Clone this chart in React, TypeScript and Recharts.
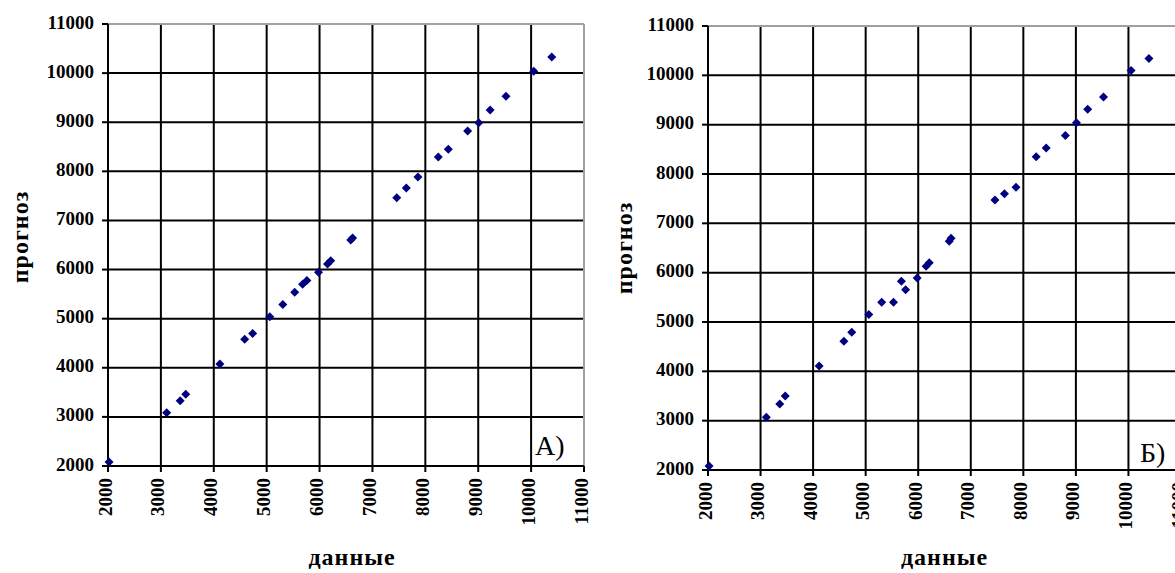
import React from "react";
import {
  ScatterChart,
  Scatter,
  XAxis,
  YAxis,
  CartesianGrid,
  ReferenceLine,
  Label,
} from "recharts";

// actual values (shared by both panels)
const actual = [
  2020, 3110, 3365, 3470, 4115, 4585, 4735, 5060, 5305, 5530, 5680, 5760,
  5980, 6150, 6210, 6590, 6625, 7460, 7640, 7860, 8245, 8435, 8800, 9010,
  9225, 9525, 10050, 10390,
];

// forecast, panel A
const forecastA = [
  2080, 3085, 3330, 3460, 4077, 4580, 4700, 5040, 5290, 5540, 5700, 5775,
  5945, 6115, 6180, 6600, 6640, 7460, 7660, 7885, 8290, 8450, 8820, 8990,
  9250, 9530, 10040, 10330,
];

// forecast, panel B
const forecastB = [
  2080, 3070, 3340, 3500, 4110, 4610, 4790, 5150, 5400, 5400, 5825, 5655,
  5890, 6130, 6200, 6635, 6700, 7475, 7600, 7730, 8350, 8525, 8780, 9040,
  9315, 9560, 10100, 10340,
];

const ticks = [2000, 3000, 4000, 5000, 6000, 7000, 8000, 9000, 10000, 11000];

const dataA = actual.map((x, i) => ({ x, y: forecastA[i] }));
const dataB = actual.map((x, i) => ({ x, y: forecastB[i] }));

const font = "'Liberation Serif', 'Times New Roman', serif";

const Diamond = (props: any) => {
  const { cx, cy } = props;
  const r = 4.5;
  return (
    <path
      d={`M${cx},${cy - r}L${cx + r},${cy}L${cx},${cy + r}L${cx - r},${cy}Z`}
      fill="#000080"
    />
  );
};

const XTick = (props: any) => {
  const { x, y, payload } = props;
  return (
    <text
      x={x - 3}
      y={y}
      transform={`rotate(-90 ${x - 3} ${y})`}
      textAnchor="end"
      dominantBaseline="central"
      fontFamily={font}
      fontWeight="bold"
      fontSize={19}
      fill="#000"
    >
      {payload.value}
    </text>
  );
};

const YTick = (props: any) => {
  const { x, y, payload } = props;
  return (
    <text
      x={x}
      y={y - 2}
      textAnchor="end"
      dominantBaseline="central"
      fontFamily={font}
      fontWeight="bold"
      fontSize={19}
      fill="#000"
    >
      {payload.value}
    </text>
  );
};

const yTitle = (shift: number, left: number) => (props: any) => {
  const { viewBox } = props;
  const cx = viewBox.x + left;
  const cy = viewBox.y + viewBox.height / 2 + shift;
  return (
    <text
      x={cx}
      y={cy}
      transform={`rotate(-90 ${cx} ${cy})`}
      textAnchor="middle"
      dominantBaseline="central"
      fontFamily={font}
      fontWeight="bold"
      fontSize={24}
      letterSpacing={1}
      fill="#000"
    >
      прогноз
    </text>
  );
};

const xTitle = (dx: number, baseline: number) => (props: any) => {
  const { viewBox } = props;
  return (
    <text
      x={viewBox.x + viewBox.width / 2 + dx}
      y={viewBox.y + baseline}
      textAnchor="middle"
      fontFamily={font}
      fontWeight="bold"
      fontSize={24}
      letterSpacing={1}
      fill="#000"
    >
      данные
    </text>
  );
};

function Panel(props: {
  data: { x: number; y: number }[];
  top: number;
  right: number;
  xHeight: number;
  xDx: number;
  xBase: number;
  yShift: number;
  yLeft: number;
}) {
  const { data, top, right, xHeight, xDx, xBase, yShift, yLeft } = props;
  return (
    <ScatterChart
      width={600}
      height={573}
      margin={{ top, right, bottom: 0, left: 0 }}
    >
      <CartesianGrid stroke="#000" strokeWidth={2} />
      <XAxis
        type="number"
        dataKey="x"
        domain={[2000, 11000]}
        ticks={ticks}
        interval={0}
        height={xHeight}
        tick={<XTick />}
        tickSize={6}
        tickMargin={6}
        axisLine={{ stroke: "#000", strokeWidth: 2 }}
        tickLine={{ stroke: "#000", strokeWidth: 2 }}
      >
        <Label content={xTitle(xDx, xBase)} />
      </XAxis>
      <YAxis
        type="number"
        dataKey="y"
        domain={[2000, 11000]}
        ticks={ticks}
        interval={0}
        width={108}
        tick={<YTick />}
        tickSize={6}
        tickMargin={8}
        axisLine={{ stroke: "#000", strokeWidth: 2 }}
        tickLine={{ stroke: "#000", strokeWidth: 2 }}
      >
        <Label content={yTitle(yShift, yLeft)} />
      </YAxis>
      <ReferenceLine y={11000} stroke="#a0a0a0" strokeWidth={2} />
      <ReferenceLine x={11000} stroke="#a0a0a0" strokeWidth={2} />
      <Scatter data={data} shape={<Diamond />} isAnimationActive={false} />
    </ScatterChart>
  );
}

const tagStyle: React.CSSProperties = {
  position: "absolute",
  fontFamily: font,
  fontSize: 28,
  lineHeight: "28px",
  color: "#000",
};

export default function App() {
  return (
    <div
      style={{
        position: "absolute",
        left: 0,
        top: 0,
        width: 1175,
        height: 573,
        overflow: "hidden",
        background: "#fff",
      }}
    >
      <div style={{ position: "absolute", left: 0, top: 0 }}>
        <Panel
          data={dataA}
          top={24}
          right={16}
          xHeight={107}
          xDx={6}
          xBase={99}
          yShift={-8}
          yLeft={20}
        />
      </div>
      <div style={{ position: "absolute", left: 600, top: 0 }}>
        <Panel
          data={dataB}
          top={26}
          right={19}
          xHeight={103}
          xDx={0}
          xBase={95}
          yShift={0}
          yLeft={24}
        />
      </div>
      <div style={{ ...tagStyle, left: 535, top: 432 }}>A)</div>
      <div style={{ ...tagStyle, left: 1140, top: 439 }}>Б)</div>
    </div>
  );
}
